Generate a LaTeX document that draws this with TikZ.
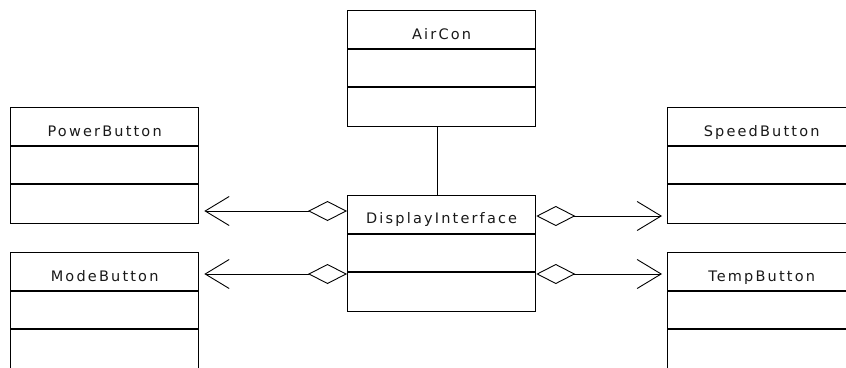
\documentclass[tikz,border=0pt]{standalone}
\usepackage{fontspec}
\setmainfont{DejaVu Sans}[LetterSpace=15]
\usetikzlibrary{arrows.meta}
\begin{document}
\begin{tikzpicture}[x=1pt,y=-1pt,
  cls/.style={draw=black, line width=1.3pt, fill=white, minimum width=188pt, minimum height=116pt, anchor=north west, inner sep=0pt},
  ttl/.style={anchor=base, font=\fontsize{14.5}{14.5}\selectfont, text=black!90, inner sep=0pt},
  agg/.style={line width=0.9pt, {Diamond[open, length=39pt, width=20pt, line width=0.9pt]}-{Straight Barb[length=24pt, width=29pt, line width=0.9pt]}, shorten >=5pt},
  assoc/.style={line width=1.2pt}]
\useasboundingbox (0,0) rectangle (846,367);
\clip (0,0) rectangle (846,367);
\fill[white] (0,0) rectangle (846,367);
% boxes
\node[cls] (ac) at (347,10) {};
\node[cls] (di) at (347,195) {};
\node[cls] (pb) at (10,107) {};
\node[cls] (mb) at (10,252) {};
\node[cls] (sb) at (667,107) {};
\node[cls] (tb) at (667,252) {};
% compartments
\foreach \b in {ac,di,pb,mb,sb,tb}{
  \draw[line width=1.3pt] ([yshift=-39pt]\b.north west) -- ([yshift=-39pt]\b.north east);
  \draw[line width=1.3pt] ([yshift=-77pt]\b.north west) -- ([yshift=-77pt]\b.north east);
}
% titles
\node[ttl] (act) at ([yshift=-29pt]ac.north) {AirCon};
\node[ttl] (dit) at ([yshift=-28pt]di.north) {DisplayInterface};
\node[ttl] (pbt) at ([yshift=-29pt]pb.north) {PowerButton};
\node[ttl] (mbt) at ([yshift=-29pt]mb.north) {ModeButton};
\node[ttl] (sbt) at ([yshift=-29pt]sb.north) {SpeedButton};
\node[ttl] (tbt) at ([yshift=-29pt]tb.north) {TempButton};
% connectors
\draw[assoc] ([xshift=-4.5pt]ac.south) -- ([xshift=-4.5pt]di.north);
\draw[agg] (di.west |- 0,211) -- (pb.east |- 0,211);
\draw[agg] (di.west |- 0,274) -- (mb.east |- 0,274);
\draw[agg] (di.east |- 0,216) -- (sb.west |- 0,216);
\draw[agg] (di.east |- 0,274) -- (tb.west |- 0,274);
\end{tikzpicture}
\end{document}
